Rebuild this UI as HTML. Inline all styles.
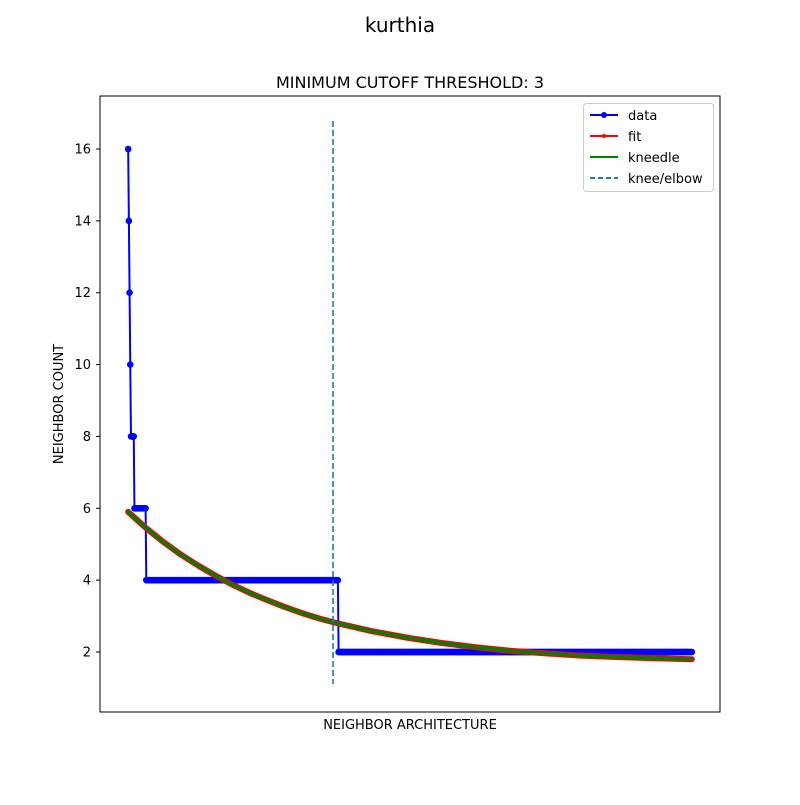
<!DOCTYPE html>
<html><head><meta charset="utf-8"><style>
body{margin:0;background:#fff;font-family:"Liberation Sans","DejaVu Sans",sans-serif}
svg text{font-family:"DejaVu Sans","Liberation Sans",sans-serif}
</style></head><body>
<svg id="c" width="800" height="800" xmlns="http://www.w3.org/2000/svg">
<rect width="800" height="800" fill="#fff"/>
<text x="400" y="32" font-size="20" text-anchor="middle">kurthia</text>
<text x="410" y="88" font-size="16" text-anchor="middle">MINIMUM CUTOFF THRESHOLD: 3</text>
<text x="410" y="729" font-size="13" text-anchor="middle">NEIGHBOR ARCHITECTURE</text>
<text transform="translate(63,404) rotate(-90)" font-size="13" text-anchor="middle">NEIGHBOR COUNT</text>
<g id="plot"></g>
<rect x="100" y="96" width="620" height="616" fill="none" stroke="#000" stroke-width="1"/>
<g>
<rect x="583.5" y="103.5" width="130" height="88" rx="3" fill="#fff" stroke="#ccc"/>
<g><line x1="590" y1="115" x2="618" y2="115" stroke="#0000ff" stroke-width="2"/><circle cx="604" cy="115" r="3" fill="#0000ff"/><text x="628" y="120" font-size="13">data</text></g>
<g><line x1="590" y1="136" x2="618" y2="136" stroke="#ff0000" stroke-width="2"/><circle cx="604" cy="136" r="2" fill="#ff0000"/><text x="628" y="141" font-size="13">fit</text></g>
<g><line x1="590" y1="157" x2="618" y2="157" stroke="#008000" stroke-width="2"/><circle cx="604" cy="157" r="1" fill="#008000"/><text x="628" y="162" font-size="13">kneedle</text></g>
<g><line x1="590" y1="178" x2="618" y2="178" stroke="#1f77b4" stroke-width="2" stroke-dasharray="5,3"/><text x="628" y="183" font-size="13">knee/elbow</text></g>
</g>
</svg>
<script>
const dataValues=[16,14,12,10,8,6,4,2];
const dataCounts=[1,1,1,1,5,17,276,508];
const fitIndex=[0,25,50,75,100,125,150,175,200,225,250,275,300,350,400,450,500,550,600,650,700,750,809];
const fitValues=[5.90,5.46,5.07,4.72,4.41,4.13,3.87,3.64,3.44,3.25,3.08,2.93,2.80,2.58,2.40,2.25,2.13,2.03,1.96,1.90,1.86,1.83,1.80];
const kneeIndex=294;
const yTicks=[2,4,6,8,10,12,14,16];
const NS="http://www.w3.org/2000/svg";
const g=document.getElementById('plot');
const ys=[];dataValues.forEach((v,k)=>{for(let j=0;j<dataCounts[k];j++)ys.push(v);});
const n=ys.length, pad=(n-1)*0.05;
const X=i=>100+(i+pad)/((n-1)+2*pad)*620;
const Y=v=>652-(v-2)*(503/14);
function el(t,a){const e=document.createElementNS(NS,t);for(const k in a)e.setAttribute(k,a[k]);g.appendChild(e);return e;}
yTicks.forEach(t=>{
 const l=el('line',{x1:96,x2:100,y1:Y(t),y2:Y(t),stroke:'#000'});
 
 
 const tx=el('text',{x:91,y:Y(t)+4.5,'font-size':13,'text-anchor':'end'});tx.textContent=t;
 
 
});
let pts=ys.map((v,i)=>X(i).toFixed(2)+','+Y(v).toFixed(2)).join(' ');
const dl=el('polyline',{points:pts,fill:'none',stroke:'#0000ff','stroke-width':2});


ys.forEach((v,i)=>{const c=el('circle',{cx:X(i),cy:Y(v),r:3.3,fill:'#0000ff'});
 
 });
const fp=fitIndex.map((i,k)=>X(i).toFixed(2)+','+Y(fitValues[k]).toFixed(2)).join(' ');
const fl=el('polyline',{points:fp,fill:'none',stroke:'#ff0000','stroke-width':6,'stroke-linecap':'round','stroke-linejoin':'round'});


const kl=el('polyline',{points:fp,fill:'none',stroke:'#008000','stroke-width':3.5,'stroke-linecap':'round','stroke-linejoin':'round'});


const kv=el('line',{x1:X(kneeIndex),x2:X(kneeIndex),y1:Y(16.78),y2:Y(1.11),stroke:'#1f77b4','stroke-width':1.6,'stroke-dasharray':'6,3'});


</script>
</body></html>
